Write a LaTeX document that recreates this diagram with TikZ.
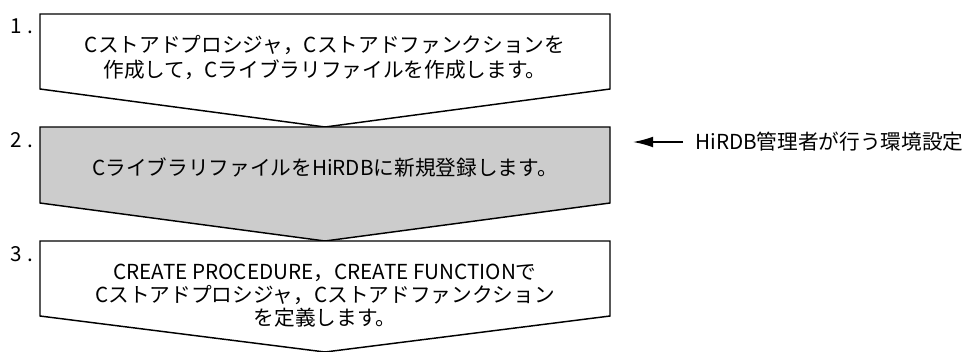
\documentclass[tikz,border=0pt]{standalone}
\usepackage{fontspec}
\setmainfont{Noto Sans CJK JP}
\usetikzlibrary{arrows.meta, positioning}
\definecolor{stepgray}{HTML}{CCCCCC}

\begin{document}
\begin{tikzpicture}[x=0.75pt, y=-0.75pt, font=\fontsize{15.5}{18.75}\selectfont]
    \useasboundingbox (0,0) rectangle (966,351);

    % Step shapes (box with a pointed bottom)
    \draw[line width=1.1pt, fill=white] (40,14) -- (610,14) -- (610,89) -- (325,127) -- (40,89) -- cycle;
    \draw[line width=1.1pt, fill=stepgray] (40,127) -- (610,127) -- (610,203) -- (325,241) -- (40,203) -- cycle;
    \draw[line width=1.1pt, fill=white] (40,241) -- (610,241) -- (610,316) -- (325,352) -- (40,316) -- cycle;

    % Step numbers
    \node[anchor=base west, inner sep=0pt] (num1) at (10,33) {1\kern4pt.};
    \node[anchor=base west, inner sep=0pt] (num2) at (10,147) {2\kern4pt.};
    \node[anchor=base west, inner sep=0pt] (num3) at (10,261) {3\kern4pt.};

    % Step texts
    \node[align=center, inner sep=0pt] (step1) at (325,58) {Cストアドプロシジャ，Cストアドファンクションを\\作成して，Cライブラリファイルを作成します。};
    \node[align=center, inner sep=0pt] (step2) at (325,168) {CライブラリファイルをHiRDBに新規登録します。};
    \node[align=center, inner sep=0pt, font=\fontsize{15.5}{17.25}\selectfont] (step3) at (325,296) {CREATE PROCEDURE，CREATE FUNCTIONで\\Cストアドプロシジャ，Cストアドファンクション\\を定義します。};

    % Administrator note
    \node[anchor=west, inner sep=0pt] (admin) at (695,142) {HiRDB管理者が行う環境設定};
    \coordinate (tip) at (633,142);
    \draw[line width=1.1pt, -{Latex[length=15pt, width=8pt]}] ([xshift=-9]admin.west) -- (tip);
\end{tikzpicture}
\end{document}
